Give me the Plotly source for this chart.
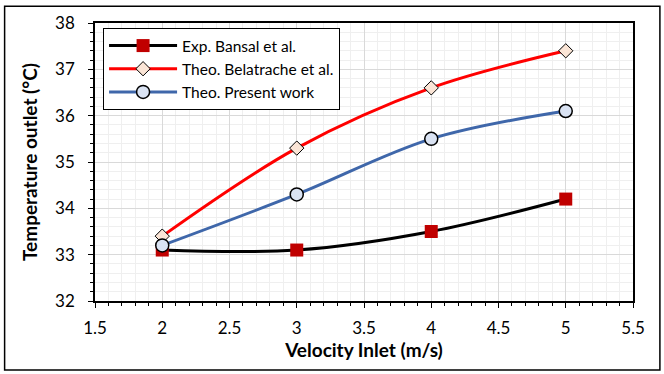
import plotly.graph_objects as go

velocity = [2, 3, 4, 5]
exp_bansal = [33.1, 33.1, 33.5, 34.2]
theo_belatrache = [33.4, 35.3, 36.6, 37.4]
theo_present = [33.2, 34.3, 35.5, 36.1]

FONT = "Lato"

fig = go.Figure()

fig.add_trace(go.Scatter(
    x=velocity, y=exp_bansal, name="Exp. Bansal et al.",
    mode="lines+markers",
    line=dict(color="black", width=3, shape="spline"),
    marker=dict(symbol="square", size=13, color="#C00000",
                line=dict(color="#C00000", width=0)),
))
fig.add_trace(go.Scatter(
    x=velocity, y=theo_belatrache, name="Theo. Belatrache et al.",
    mode="lines+markers",
    line=dict(color="#FF0000", width=3, shape="spline"),
    marker=dict(symbol="diamond", size=11, color="#FBE5D6",
                line=dict(color="black", width=1)),
))
fig.add_trace(go.Scatter(
    x=velocity, y=theo_present, name="Theo. Present work",
    mode="lines+markers",
    line=dict(color="#3F67AA", width=3, shape="spline"),
    marker=dict(symbol="circle", size=13, color="#DAE3F3",
                line=dict(color="black", width=1.5)),
))

fig.update_layout(
    width=664, height=374,
    margin=dict(l=95, r=31, t=19, b=73),
    paper_bgcolor="white", plot_bgcolor="white",
    font=dict(family=FONT, color="black", size=17),
    showlegend=True,
    legend=dict(
        x=0.015, y=0.982, xanchor="left", yanchor="top",
        bgcolor="white", bordercolor="black", borderwidth=1,
        font=dict(size=15.5, family=FONT), tracegroupgap=0,
        itemwidth=68, entrywidth=262, entrywidthmode="pixels",
    ),
    shapes=[dict(type="rect", xref="paper", yref="paper",
                 x0=-0.168, x1=1.05, y0=-0.248, y1=1.06,
                 line=dict(color="black", width=1.5))],
)

fig.update_xaxes(
    range=[1.5, 5.5], dtick=0.5, tick0=1.5,
    showgrid=True, gridcolor="#D9D9D9", gridwidth=1,
    minor=dict(dtick=0.1, showgrid=True, gridcolor="#EFEFEF",
               ticks="outside", ticklen=3, tickcolor="black"),
    ticks="outside", ticklen=5, tickcolor="black",
    showline=True, linecolor="black", linewidth=1.5, mirror=True,
    zeroline=False,
    title=dict(text="<b>Velocity Inlet (m/s)</b>", font=dict(size=19, family=FONT), standoff=7),
    tickfont=dict(size=17),
    ticklabelstandoff=6,
)
fig.update_yaxes(
    range=[32, 38], dtick=1,
    showgrid=True, gridcolor="#D9D9D9", gridwidth=1,
    minor=dict(dtick=0.2, showgrid=True, gridcolor="#EFEFEF",
               ticks="outside", ticklen=3, tickcolor="black"),
    ticks="outside", ticklen=5, tickcolor="black",
    showline=True, linecolor="black", linewidth=1.5, mirror=True,
    zeroline=False,
    title=dict(text="<b>Temperature outlet (°C)</b>", font=dict(size=19, family=FONT), standoff=12),
    tickfont=dict(size=17),
    ticklabelstandoff=10,
)

fig.write_html("out.html")
